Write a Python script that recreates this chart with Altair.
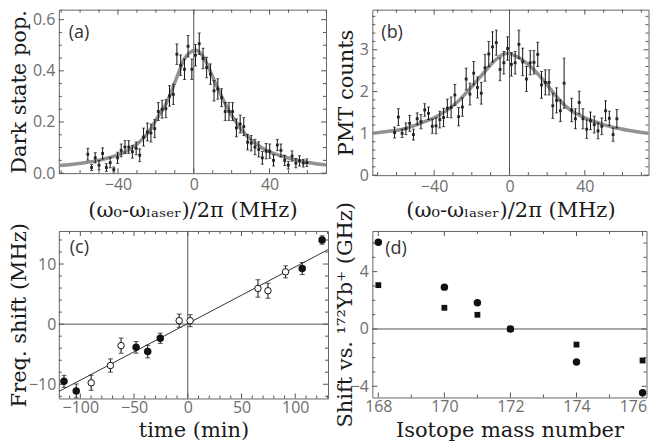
import altair as alt
import pandas as pd

# ---------------- data: panel (a) ----------------
A_X = [-55.9, -53.9, -52.0, -50.0, -48.1, -46.1, -44.1, -42.2, -40.2, -38.3,
       -36.3, -34.3, -32.4, -30.4, -28.5, -26.5, -24.5, -22.6, -20.6, -18.7,
       -16.7, -14.7, -12.8, -10.8, -8.9, -6.9, -4.9, -3.0, -1.0, 0.9,
       2.9, 4.9, 6.8, 8.8, 10.7, 12.7, 14.7, 16.6, 18.6, 20.5,
       22.5, 24.5, 26.4, 28.4, 30.3, 32.3, 34.3, 36.2, 38.2, 40.1,
       42.1, 44.1, 46.0, 48.0, 49.9, 51.9, 53.9, 55.8, 57.8, 59.7]
A_Y = [0.074, 0.022, 0.060, 0.031, 0.077, 0.022, 0.041, 0.014, 0.060, 0.089,
       0.102, 0.102, 0.084, 0.097, 0.070, 0.141, 0.161, 0.157, 0.174, 0.241,
       0.250, 0.252, 0.302, 0.308, 0.465, 0.422, 0.406, 0.496, 0.406, 0.461,
       0.506, 0.448, 0.413, 0.387, 0.322, 0.329, 0.295, 0.241, 0.241, 0.241,
       0.177, 0.192, 0.182, 0.121, 0.117, 0.102, 0.093, 0.060, 0.086, 0.086,
       0.050, 0.110, 0.089, 0.050, 0.031, 0.067, 0.039, 0.048, 0.039, 0.041]
A_ERR = [0.023, 0.012, 0.020, 0.018, 0.022, 0.015, 0.020, 0.010, 0.022, 0.025,
         0.025, 0.025, 0.025, 0.025, 0.025, 0.035, 0.035, 0.035, 0.035, 0.035,
         0.035, 0.035, 0.040, 0.040, 0.040, 0.040, 0.040, 0.042, 0.040, 0.042,
         0.042, 0.040, 0.040, 0.040, 0.040, 0.040, 0.035, 0.035, 0.035, 0.035,
         0.035, 0.035, 0.035, 0.030, 0.030, 0.030, 0.030, 0.025, 0.030, 0.028,
         0.022, 0.022, 0.025, 0.020, 0.015, 0.020, 0.018, 0.020, 0.015, 0.015]
A_FIT_X = [-71.2, -58.4, -48.7, -40.0, -34.0, -28.2, -23.4, -19.5, -13.6, -8.8,
           -4.9, -1.9, 1.0, 3.9, 5.8, 10.7, 15.6, 20.9, 28.2, 34.1,
           39.0, 45.8, 52.6, 60.4, 69.8]
A_FIT_Y = [0.030, 0.040, 0.053, 0.071, 0.092, 0.125, 0.165, 0.213, 0.286, 0.377,
           0.448, 0.472, 0.480, 0.466, 0.445, 0.364, 0.286, 0.215, 0.144, 0.108,
           0.086, 0.068, 0.054, 0.042, 0.032]

# ---------------- data: panel (b) ----------------
B_X = [-61, -59, -57, -55, -53, -51, -49, -47, -45, -43,
       -41, -39, -37, -35, -33, -31, -29, -27, -25, -23,
       -21, -19, -17, -15, -13, -11, -9, -7, -5, -3,
       -1, 1, 3, 5, 7, 9, 11, 13, 15, 17,
       19, 21, 23, 25, 27, 29,
       33, 35, 37, 39, 41, 43, 45, 47, 49, 51, 53, 55, 57]
B_Y = [1.02, 1.39, 1.00, 1.11, 1.24, 0.97, 1.35, 1.28, 1.56, 1.48,
       1.17, 1.18, 1.33, 1.38, 1.60, 1.62, 1.92, 1.40, 1.63, 2.30,
       1.94, 2.44, 2.10, 1.96, 2.57, 2.90, 3.07, 3.17, 2.53, 2.69,
       3.03, 2.65, 2.69, 3.13, 2.71, 2.30, 2.69, 2.70, 2.89, 2.16,
       2.22, 2.22, 1.66, 1.79, 1.54, 2.20,
       1.56, 1.35, 1.74, 1.35, 1.10, 1.30, 1.21, 1.06, 1.17, 1.54, 1.36, 0.97, 1.35]
B_ERR = [0.13, 0.20, 0.10, 0.14, 0.19, 0.13, 0.14, 0.17, 0.15, 0.15,
         0.17, 0.19, 0.20, 0.22, 0.22, 0.25, 0.25, 0.22, 0.22, 0.26,
         0.26, 0.28, 0.25, 0.26, 0.32, 0.30, 0.36, 0.30, 0.27, 0.27,
         0.28, 0.28, 0.27, 0.34, 0.33, 0.30, 0.29, 0.28, 0.29, 0.32,
         0.30, 0.30, 0.30, 0.30, 0.26, 0.60,
         0.28, 0.24, 0.27, 0.24, 0.22, 0.21, 0.20, 0.19, 0.20, 0.24, 0.17, 0.16, 0.22]
B_FIT_X = [-72.8, -66.3, -56.8, -47.4, -37.9, -28.4, -20.8, -14.2, -7.6, -3.8,
           -0.9, 2.8, 5.7, 12.3, 18.9, 26.5, 33.2, 39.8, 44.5, 52.1,
           56.8, 66.3, 73.8]
B_FIT_Y = [1.00, 1.04, 1.10, 1.24, 1.42, 1.72, 2.08, 2.42, 2.75, 2.88,
           2.92, 2.86, 2.79, 2.55, 2.22, 1.80, 1.53, 1.38, 1.29, 1.18,
           1.13, 1.05, 1.00]

# ---------------- data: panel (c) ----------------
C_FILLED_T = [-115.2, -103.8, -48.1, -37.3, -25.6, 106.5, 125.0]
C_FILLED_Y = [-9.5, -11.1, -3.85, -4.56, -2.35, 9.25, 14.0]
C_FILLED_ERR = [1.0, 1.15, 0.97, 1.05, 0.85, 1.0, 0.7]
C_OPEN_T = [-89.9, -72.0, -62.1, -8.0, 2.2, 65.3, 74.6, 91.0]
C_OPEN_Y = [-9.75, -6.88, -3.57, 0.58, 0.58, 5.94, 5.56, 8.7]
C_OPEN_ERR = [1.25, 1.1, 1.25, 1.1, 1.0, 1.45, 1.25, 1.0]
C_FIT_T = [-120.0, 130.5]
C_FIT_Y = [-11.2, 12.4]

# ---------------- data: panel (d) ----------------
D_MASS = [168, 170, 171, 172, 174, 176]
D_CIRCLE = [6.05, 2.92, 1.83, 0.0, -2.3, -4.45]
D_SQUARE = [3.06, 1.48, 0.99, 0.0, -1.09, -2.2]

# ---------------- tick positions ----------------
AB_XMAJ = [-40, 0, 40]
AB_XMIN = [-70, -60, -50, -30, -20, -10, 10, 20, 30, 50, 60, 70]
A_YMAJ = [0.0, 0.2, 0.4, 0.6]
A_YMIN = [0.05, 0.1, 0.15, 0.25, 0.3, 0.35, 0.45, 0.5, 0.55]
B_YMAJ = [0, 1, 2, 3]
B_YMIN = [0.2, 0.4, 0.6, 0.8, 1.2, 1.4, 1.6, 1.8, 2.2, 2.4, 2.6, 2.8, 3.2, 3.4, 3.6, 3.8]
C_XMAJ = [-100, -50, 0, 50, 100]
C_XMIN = [-110, -90, -80, -70, -60, -40, -30, -20, -10, 10, 20, 30, 40, 60, 70, 80, 90, 110, 120, 130]
C_YMAJ = [-10, 0, 10]
C_YMIN = [-12, -8, -6, -4, -2, 2, 4, 6, 8, 12, 14]
D_XMAJ = [168, 170, 172, 174, 176]
D_XMIN = [169, 171, 173, 175]
D_YMAJ = [-4, 0, 4]
D_YMIN = [-3, -2, -1, 1, 2, 3, 5, 6]

TICK = "#555555"
TITLE_FONT = "DejaVu Serif"
ABX_TITLE = "(ω₀-ωₗₐₛₑᵣ)/2π (MHz)"


def xaxis(values, title, title_y, **kw):
    kw.setdefault("labelPadding", 3)
    return alt.Axis(values=values, title=title, titleY=title_y,
                    titleBaseline="alphabetic", **kw)


def yaxis(values, title, title_x, **kw):
    kw.setdefault("labelPadding", 4)
    return alt.Axis(values=values, title=title, titleX=title_x, **kw)


def tick_layers(xs, ys, ax, ay, W, H, xmaj, xmin, ymaj, ymin, L1=5, L2=3):
    out = []
    for vals, L in ((xmaj, L1), (xmin, L2)):
        base = alt.Chart(pd.DataFrame({"v": vals})).mark_rule(color=TICK, strokeWidth=1)
        xe = alt.X("v:Q", scale=xs, axis=ax)
        out.append(base.encode(x=xe, y=alt.value(H), y2=alt.value(H - L)))
        out.append(base.encode(x=xe, y=alt.value(0), y2=alt.value(L)))
    for vals, L in ((ymaj, L1), (ymin, L2)):
        base = alt.Chart(pd.DataFrame({"v": vals})).mark_rule(color=TICK, strokeWidth=1)
        ye = alt.Y("v:Q", scale=ys, axis=ay)
        out.append(base.encode(y=ye, x=alt.value(0), x2=alt.value(L)))
        out.append(base.encode(y=ye, x=alt.value(W), x2=alt.value(W - L)))
    return out


def label_layer(text, x, y):
    return alt.Chart(pd.DataFrame({"t": [text]})).mark_text(
        align="left", baseline="top", font="Open Sans", fontSize=18, color="#333333"
    ).encode(text="t:N", x=alt.value(x), y=alt.value(y))


def zero_x(xs, ax):
    return alt.Chart(pd.DataFrame({"v": [0]})).mark_rule(color="#555555", strokeWidth=1).encode(
        x=alt.X("v:Q", scale=xs, axis=ax))


def zero_y(ys, ay):
    return alt.Chart(pd.DataFrame({"v": [0]})).mark_rule(color="#555555", strokeWidth=1).encode(
        y=alt.Y("v:Q", scale=ys, axis=ay))


def spectrum_panel(X, Y, E, FX, FY, xdom, ydom, W, H, ymaj, ymin, ytitle, ytx, xty,
                   label, yfmt=None):
    xs = alt.Scale(domain=xdom, nice=False, zero=False)
    ys = alt.Scale(domain=ydom, nice=False, zero=False)
    ax = xaxis(AB_XMAJ, ABX_TITLE, xty)
    ykw = {"format": yfmt} if yfmt else {}
    ay = yaxis(ymaj, ytitle, ytx, **ykw)
    pts = pd.DataFrame({"x": X, "y": Y,
                        "lo": [y - e for y, e in zip(Y, E)],
                        "hi": [y + e for y, e in zip(Y, E)]})
    fit = pd.DataFrame({"x": FX, "y": FY})
    xn = alt.X("x:Q", scale=xs, axis=ax)
    curve = alt.Chart(fit).mark_line(color="#8c8c8c", strokeWidth=3.5, interpolate="monotone",
                                     clip=True, opacity=0.95).encode(
        x=xn, y=alt.Y("y:Q", scale=ys, axis=ay))
    bars = alt.Chart(pts).mark_rule(color="#111111", strokeWidth=1).encode(
        x=xn, y=alt.Y("lo:Q", scale=ys, axis=ay), y2="hi:Q")
    cap_lo = alt.Chart(pts).mark_tick(orient="horizontal", size=3, thickness=1, color="#111111").encode(
        x=xn, y=alt.Y("lo:Q", scale=ys, axis=ay))
    cap_hi = alt.Chart(pts).mark_tick(orient="horizontal", size=3, thickness=1, color="#111111").encode(
        x=xn, y=alt.Y("hi:Q", scale=ys, axis=ay))
    dots = alt.Chart(pts).mark_square(size=8, color="#222222", opacity=1).encode(
        x=xn, y=alt.Y("y:Q", scale=ys, axis=ay))
    layers = [zero_x(xs, ax)] + tick_layers(xs, ys, ax, ay, W, H, AB_XMAJ, AB_XMIN, ymaj, ymin) + \
             [curve, bars, cap_lo, cap_hi, dots, label]
    return alt.layer(*layers).properties(width=W, height=H)


# ---------------- panel (a) ----------------
WA, HA = 268, 164
pa = spectrum_panel(A_X, A_Y, A_ERR, A_FIT_X, A_FIT_Y, [-71.2, 69.8], [0, 0.639], WA, HA,
                    A_YMAJ, A_YMIN, "Dark state pop.", -29, 43, label_layer("(a)", 10, 14),
                    yfmt=".1f")

# ---------------- panel (b) ----------------
WB, HB = 277, 166
pb = spectrum_panel(B_X, B_Y, B_ERR, B_FIT_X, B_FIT_Y, [-72.8, 73.8], [0, 3.96], WB, HB,
                    B_YMAJ, B_YMIN, "PMT counts", -16, 41, label_layer("(b)", 9, 14))

# ---------------- panel (c) ----------------
WC, HC = 270, 168
xs_c = alt.Scale(domain=[-120, 130.5], nice=False, zero=False)
ys_c = alt.Scale(domain=[-12.36, 15.5], nice=False, zero=False)
ax_c = xaxis(C_XMAJ, "time (min)", 38, labelPadding=1)
ay_c = yaxis(C_YMAJ, "Freq. shift (MHz)", -29, labelPadding=3)
c_fill = pd.DataFrame({"t": C_FILLED_T, "y": C_FILLED_Y,
                       "lo": [y - e for y, e in zip(C_FILLED_Y, C_FILLED_ERR)],
                       "hi": [y + e for y, e in zip(C_FILLED_Y, C_FILLED_ERR)]})
c_open = pd.DataFrame({"t": C_OPEN_T, "y": C_OPEN_Y,
                       "lo": [y - e for y, e in zip(C_OPEN_Y, C_OPEN_ERR)],
                       "hi": [y + e for y, e in zip(C_OPEN_Y, C_OPEN_ERR)]})
c_fit = pd.DataFrame({"t": C_FIT_T, "y": C_FIT_Y})
xcn = alt.X("t:Q", scale=xs_c, axis=ax_c)


def err_layers(df):
    bars = alt.Chart(df).mark_rule(color="#111111", strokeWidth=1).encode(
        x=xcn, y=alt.Y("lo:Q", scale=ys_c, axis=ay_c), y2="hi:Q")
    lo = alt.Chart(df).mark_tick(orient="horizontal", size=5, thickness=1, color="#111111").encode(
        x=xcn, y=alt.Y("lo:Q", scale=ys_c, axis=ay_c))
    hi = alt.Chart(df).mark_tick(orient="horizontal", size=5, thickness=1, color="#111111").encode(
        x=xcn, y=alt.Y("hi:Q", scale=ys_c, axis=ay_c))
    return [bars, lo, hi]


c_line = alt.Chart(c_fit).mark_line(color="#333333", strokeWidth=1, clip=True).encode(
    x=xcn, y=alt.Y("y:Q", scale=ys_c, axis=ay_c))
c_open_pts = alt.Chart(c_open).mark_point(shape="circle", size=42, filled=True, fill="white",
                                          stroke="#111111", strokeWidth=1, opacity=1).encode(
    x=xcn, y=alt.Y("y:Q", scale=ys_c, axis=ay_c))
c_fill_pts = alt.Chart(c_fill).mark_point(shape="circle", size=56, filled=True, color="#111111",
                                          opacity=1).encode(
    x=xcn, y=alt.Y("y:Q", scale=ys_c, axis=ay_c))
pc = alt.layer(
    zero_x(xs_c, ax_c), zero_y(ys_c, ay_c),
    *tick_layers(xs_c, ys_c, ax_c, ay_c, WC, HC, C_XMAJ, C_XMIN, C_YMAJ, C_YMIN),
    c_line, *err_layers(c_open), *err_layers(c_fill), c_open_pts, c_fill_pts,
    label_layer("(c)", 11, 8),
).properties(width=WC, height=HC)

# ---------------- panel (d) ----------------
WD, HD = 275, 167
xs_d = alt.Scale(domain=[167.82, 176.12], nice=False, zero=False)
ys_d = alt.Scale(domain=[-4.78, 6.84], nice=False, zero=False)
ax_d = xaxis(D_XMAJ, "Isotope mass number", 39, labelPadding=1,
             labelAlign=alt.condition("datum.value == 176", alt.value("right"), alt.value("center")),
             labelOffset=alt.condition("datum.value == 176", alt.value(4), alt.value(0)))
ay_d = yaxis(D_YMAJ, "Shift vs. ¹⁷²Yb⁺ (GHz)", -17)
d_df = pd.DataFrame({"m": D_MASS, "circ": D_CIRCLE, "sq": D_SQUARE})
d_sq = alt.Chart(d_df).mark_point(shape="square", size=34, filled=True, color="#111111", opacity=1).encode(
    x=alt.X("m:Q", scale=xs_d, axis=ax_d), y=alt.Y("sq:Q", scale=ys_d, axis=ay_d))
d_ci = alt.Chart(d_df).mark_point(shape="circle", size=56, filled=True, color="#111111", opacity=1).encode(
    x=alt.X("m:Q", scale=xs_d, axis=ax_d), y=alt.Y("circ:Q", scale=ys_d, axis=ay_d))
pd_ = alt.layer(
    zero_y(ys_d, ay_d),
    *tick_layers(xs_d, ys_d, ax_d, ay_d, WD, HD, D_XMAJ, D_XMIN, D_YMAJ, D_YMIN),
    d_sq, d_ci,
    label_layer("(d)", 13, 9),
).properties(width=WD, height=HD)

chart = alt.concat(
    pa, pb, pc, pd_, columns=2,
    spacing={"row": 56, "column": 44.5}, bounds="flush",
    padding=0,
).configure_view(
    stroke="#666666", strokeWidth=1
).configure_axis(
    ticks=False, domain=False, grid=False,
    labelFont="Open Sans", labelFontSize=16, labelColor="#6e6e6e",
    titleFont=TITLE_FONT, titleFontSize=21, titleFontWeight="normal", titleColor="#1a1a1a",
)

chart.save("out.html", embed_options={"renderer": "svg", "actions": False})
